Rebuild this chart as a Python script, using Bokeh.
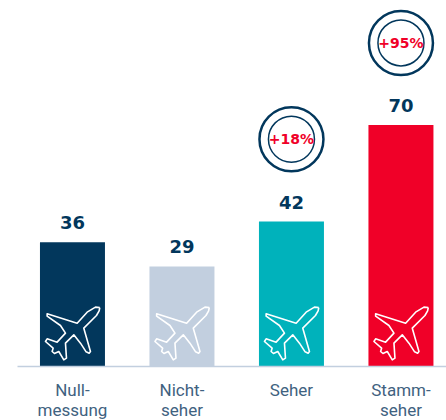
from bokeh.plotting import figure
from bokeh.models import Range1d, FixedTicker, ColumnDataSource
from bokeh.core.properties import value
from bokeh.embed import file_html
from bokeh.resources import INLINE

categories = ["Null-\nmessung", "Nicht-\nseher", "Seher", "Stamm-\nseher"]
values = [36, 29, 42, 70]
colors = ["#02375c", "#c2cfdf", "#00b2bb", "#f00028"]
badge_labels = ["+18%", "+95%"]
badge_index = [2, 3]
badge_y = [65.9, 93.8]

X_PX = 109.5      # pixels per category
Y_PX = 3.45       # pixels per value unit
positions = [0, 1, 2, 3]

p = figure(frame_width=429, frame_height=366, output_backend="svg", toolbar_location=None,
           x_range=Range1d(-0.502, 3.416), y_range=Range1d(0, 366 / Y_PX),
           min_border_left=17, min_border_right=0, min_border_top=0, min_border_bottom=54,
           outline_line_color=None, background_fill_color="white", border_fill_color="white")
p.grid.visible = False
p.yaxis.visible = False

ax = p.xaxis[0]
ax.ticker = FixedTicker(ticks=positions)
ax.major_label_overrides = dict(zip(positions, categories))
ax.major_tick_line_color = None
ax.major_tick_out = 0
ax.major_tick_in = 0
ax.minor_tick_line_color = None
ax.axis_line_color = "#c2cfdf"
ax.axis_line_width = 1.5
ax.major_label_text_color = "#3f6280"
ax.major_label_text_font = "Roboto"
ax.major_label_text_font_size = "17px"
ax.major_label_text_line_height = 1.0
ax.major_label_standoff = 13
ax.major_label_orientation = "horizontal"

src = ColumnDataSource(dict(x=positions, top=values, color=colors, label=[str(v) for v in values]))
p.vbar(x="x", top="top", bottom=0, width=65 / X_PX, fill_color="color", line_color=None, source=src)
p.text(x="x", y="top", text="label", source=src, text_align="center", text_baseline="bottom",
       y_offset=-13, text_color="#02375c", text_font=value("DejaVu Sans"), text_font_style="bold",
       text_font_size="18px")

# Plane icon: outline template in pixels, relative to the bar centre and baseline
outline = [(178, 18), (176, 28), (168, 42), (130, 80), (150, 150), (146, 155), (137, 151),
           (120, 125), (100, 100), (75, 125), (78, 170), (70, 175), (55, 150), (42, 156),
           (35, 150), (38, 140), (15, 120), (20, 112), (50, 122), (75, 95), (60, 72),
           (20, 44), (20, 37), (110, 65), (140, 32), (165, 17), (178, 18)]
xs, ys = [], []
for pos in positions:
    xs.append([pos + (zx - 96) / 3 / X_PX for zx, zy in outline])
    ys.append([(195 - zy) / 3 / Y_PX for zx, zy in outline])
p.multi_line(xs, ys, line_color="white", line_width=1.6, line_join="round")

bx = badge_index
p.scatter(bx, badge_y, size=64, marker="circle", fill_color=None, line_color="#02375c", line_width=2.5)
p.scatter(bx, badge_y, size=46, marker="circle", fill_color=None, line_color="#02375c", line_width=1.5)
p.text(bx, badge_y, text=badge_labels, text_align="center", text_baseline="middle",
       text_color="#f00028", text_font=value("DejaVu Sans"), text_font_style="bold", text_font_size="14px")

open("out.html", "w").write(file_html(p, INLINE))
